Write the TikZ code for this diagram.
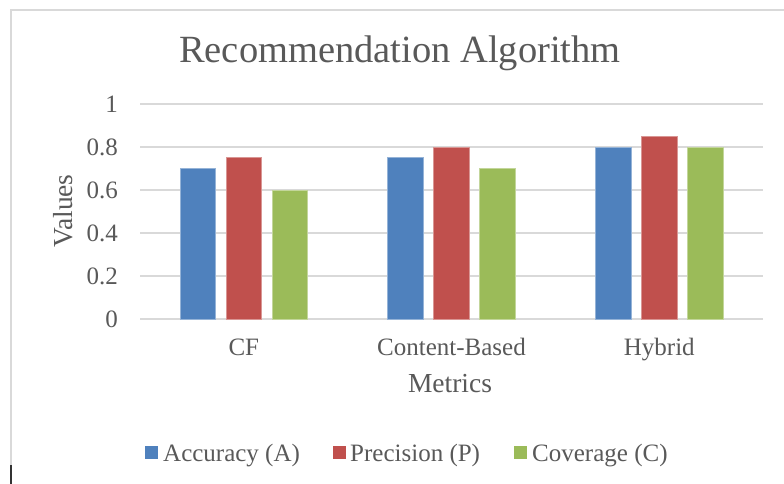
\documentclass[tikz,border=0pt]{standalone}
\usepackage{fontspec}
\setmainfont{Liberation Serif}
\definecolor{accblue}{HTML}{4F81BD}
\definecolor{precred}{HTML}{C0504D}
\definecolor{covgreen}{HTML}{9BBB59}
\definecolor{txtgray}{HTML}{595959}
\definecolor{gridgray}{HTML}{D9D9D9}

\begin{document}
\begin{tikzpicture}[x=1pt, y=-1pt,
		gridline/.style={draw=gridgray, line width=1.2pt},
		barbox/.style={fill=#1, draw=#1!60!white, line width=0.6pt},
		keybox/.style={fill=#1, draw=none},
		ticklabel/.style={anchor=east, inner sep=0pt, text=txtgray, font=\fontsize{25}{25}\selectfont},
		catlabel/.style={anchor=base, inner sep=0pt, text=txtgray, font=\fontsize{25}{25}\selectfont},
		keylabel/.style={anchor=base west, inner sep=0pt, text=txtgray, font=\fontsize{25}{25}\selectfont},
		axistitle/.style={anchor=base, inner sep=0pt, text=txtgray, font=\fontsize{27.5}{27.5}\selectfont}]
			%%%%% START %%%%%
			
			\useasboundingbox (0, 0) rectangle (784, 484);
			\fill[white] (0, 0) rectangle (784, 484);
			
			\draw[gridgray, line width=1.2pt] (784, 10) -- (11, 10) -- (11, 465);
			\draw[black!80, line width=1.6pt] (11, 465) -- (11, 484);
			
			\node[anchor=base, inner sep=0pt, text=txtgray, font=\fontsize{38.5}{38.5}\selectfont] (title) at (400, 63) {Recommendation Algorithm};
			
			\foreach \v/\t in {0/0, 0.2/0.2, 0.4/0.4, 0.6/0.6, 0.8/0.8, 1/1} {
				\draw[gridline] (140, {319-215*\v}) -- (763, {319-215*\v});
				\node[ticklabel] (tick\t) at (118, {319-215*\v}) {\t};
			}
			
			% bars: centre, accuracy, precision, coverage
			\foreach \c/\a/\p/\g in {243.8/0.7/0.75/0.6, 451.5/0.75/0.8/0.7, 659.3/0.8/0.85/0.8} {
				\draw[barbox=accblue] ({\c-46-17.75}, 319) rectangle ({\c-46+17.75}, {319-215*\a});
				\draw[barbox=precred] ({\c-17.75}, 319) rectangle ({\c+17.75}, {319-215*\p});
				\draw[barbox=covgreen] ({\c+46-17.75}, 319) rectangle ({\c+46+17.75}, {319-215*\g});
			}
			
			\node[catlabel] (cf) at (243.8, 355) {CF};
			\node[catlabel] (content) at (451.5, 355) {Content-Based};
			\node[catlabel] (hybrid) at (659.3, 355) {Hybrid};
			
			\node[axistitle] (metrics) at (450, 392) {Metrics};
			\node[axistitle, rotate=90] (values) at (72, 211) {Values};
			
			\fill[keybox=accblue] (145, 446) rectangle (158, 459);
			\node[keylabel] (keyacc) at (163, 461) {Accuracy (A)};
			\fill[keybox=precred] (333, 446) rectangle (346, 459);
			\node[keylabel] (keyprec) at (350, 461) {Precision (P)};
			\fill[keybox=covgreen] (514, 446) rectangle (527, 459);
			\node[keylabel] (keycov) at (532, 461) {Coverage (C)};
			
			%%%%% END %%%%%
\end{tikzpicture}
\end{document}
